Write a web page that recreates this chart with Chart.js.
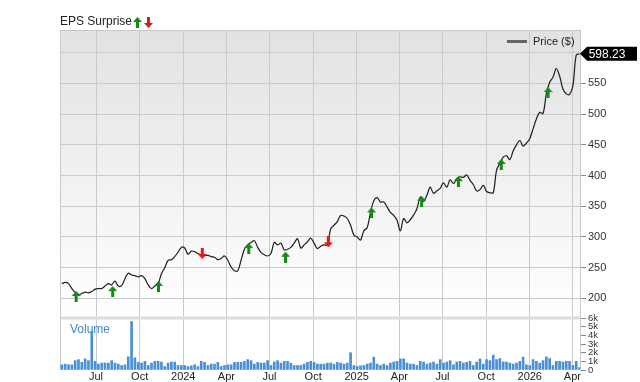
<!DOCTYPE html>
<html>
<head>
<meta charset="utf-8">
<script src="https://cdn.jsdelivr.net/npm/chart.js@4.4.1/dist/chart.umd.min.js"></script>
<style>
    html, body { margin: 0; padding: 0; background: #fff; }
    #wrap { width: 640px; height: 382px; }
</style>
</head>
<body>
<div id="wrap"><canvas id="epsChart"></canvas></div>
<script>
// Data

const axisStart = Date.UTC(2023, 3, 16);
const axisEnd = Date.UTC(2026, 3, 17);
const firstWeek = Date.UTC(2023, 3, 20);

// weekly close, $
const prices = [
    224, 226, 224, 216, 210, 206, 208, 210, 209, 211,
    215, 216, 216, 220, 224, 222, 228, 220, 221, 232,
    241, 238, 237, 235, 237, 232, 222, 216, 220, 224,
    240, 250, 262, 263, 268, 275, 283, 282, 272, 277,
    276, 273, 271, 270, 270, 268, 267, 263, 265, 269,
    262, 251, 245, 245, 262, 280, 287, 291, 294, 283,
    275, 271, 269, 273, 291, 287, 290, 279, 280, 283,
    290, 297, 282, 287, 292, 298, 290, 281, 285, 287,
    287, 313, 319, 325, 335, 334, 330, 319, 303, 300,
    295, 310, 315, 340, 359, 364, 357, 357, 349, 340,
    335, 327, 310, 330, 323, 328, 336, 346, 365, 358,
    368, 381, 371, 375, 379, 388, 381, 393, 387, 395,
    398, 397, 401, 392, 385, 375, 377, 384, 374, 372,
    372, 409, 420, 430, 432, 426, 440, 450, 457, 448,
    453, 460, 476, 492, 503, 501, 533, 552, 560, 574,
    562, 541, 533, 532, 546, 596, 598.23
];

// weekly volume, thousands
const volumes = [
    0.6, 0.68, 0.6, 0.6, 1.08, 1.2, 0.88, 1.28, 1.08, 4.48,
    1.0, 0.68, 0.8, 0.8, 0.8, 1.08, 0.8, 0.68, 0.52, 0.6,
    1.52, 5.6, 1.4, 0.88, 0.8, 1.0, 0.52, 0.8, 1.0, 1.0,
    0.92, 0.4, 0.8, 0.92, 0.92, 0.52, 0.52, 0.52, 0.4, 0.48,
    0.6, 0.4, 1.0, 0.88, 0.52, 0.68, 0.68, 0.88, 0.4, 0.52,
    0.6, 0.6, 0.88, 0.88, 0.88, 1.0, 1.2, 1.08, 0.68, 0.88,
    0.8, 0.8, 1.08, 0.52, 0.92, 1.08, 0.8, 1.0, 1.0, 0.8,
    0.52, 0.52, 0.52, 0.68, 0.88, 1.0, 0.88, 0.68, 0.68, 0.68,
    0.8, 0.8, 0.68, 0.88,
    0.8, 0.68, 0.8, 2.0, 0.52, 0.4, 0.48, 0.52, 0.68, 0.8,
    1.48, 0.68, 0.52, 0.68, 0.52, 0.8, 0.92, 1.0, 1.28, 1.28,
    0.8, 0.68, 0.68, 0.52, 1.0, 0.92, 0.68, 0.8, 0.92, 0.68,
    1.2, 0.8, 0.92, 1.08, 0.6, 0.92, 1.0, 0.8, 0.88, 1.0,
    0.52, 0.92, 1.28, 0.68, 1.2, 1.08, 1.72, 1.2, 1.32, 0.92,
    0.92, 0.8, 0.68, 0.8, 1.0, 1.48, 0.6, 0.52, 1.2, 1.0,
    0.8, 1.08, 1.52, 1.32, 0.52, 1.0, 1.0, 0.92, 1.0, 1.0,
    0.52, 1.0, 0.28
];

// EPS surprises: week index, marker level, beat (1) / miss (0)
const epsWeeks = [4.3, 15.3, 29.1, 42.3, 56.3, 67.4, 80.3, 93.3, 108.4, 119.5, 132.4, 146.5];
const epsLevels = [203, 211, 219.5, 273, 281, 267, 292, 339, 358, 390, 418, 535];
const epsBeat = [1, 1, 1, 0, 1, 1, 0, 1, 1, 1, 1, 1];

const tickMonths = [
    [2023, 6], [2023, 9], [2024, 0], [2024, 3], [2024, 6], [2024, 9],
    [2025, 0], [2025, 3], [2025, 6], [2025, 9], [2026, 0], [2026, 3]
];
const tickLabels = ['Jul', 'Oct', '2024', 'Apr', 'Jul', 'Oct', '2025', 'Apr', 'Jul', 'Oct', '2026', 'Apr'];
const priceTicks = [200, 250, 300, 350, 400, 450, 500, 550, 600];
const volumeTicks = [0, 1, 2, 3, 4, 5, 6];

/////

const DAY = 86400000;
const FONT = "'Liberation Sans', Arial, sans-serif";
const dayOf = ms => (ms - axisStart) / DAY;
const weekX = i => dayOf(firstWeek) + 7 * i;
const tickDays = tickMonths.map(m => dayOf(Date.UTC(m[0], m[1], 1)));

function makeArrow(color, up) {
    const c = document.createElement('canvas');
    c.width = 9;
    c.height = 11;
    const ctx = c.getContext('2d');
    ctx.fillStyle = color;
    ctx.beginPath();
    const pts = [[4.5, 0], [9, 5], [6, 5], [6, 11], [3, 11], [3, 5], [0, 5]];
    pts.forEach((p, i) => {
        const y = up ? p[1] : 11 - p[1];
        if (i === 0) ctx.moveTo(p[0], y); else ctx.lineTo(p[0], y);
    });
    ctx.closePath();
    ctx.fill();
    return c;
}
const upArrow = makeArrow('#138a13', true);
const downArrow = makeArrow('#e8141c', false);

// Background, borders, titles and price tag
const decorPlugin = {
    id: 'decor',
    beforeDraw(chart) {
        const ctx = chart.ctx;
        const area = chart.chartArea;
        const y = chart.scales.y;
        const g = ctx.createLinearGradient(0, y.top, 0, y.bottom);
        g.addColorStop(0, '#e2e2e2');
        g.addColorStop(1, '#ffffff');
        ctx.save();
        ctx.fillStyle = g;
        ctx.fillRect(area.left, y.top, area.right - area.left, y.bottom - y.top);
        ctx.restore();
    },
    beforeDatasetsDraw(chart) {
        const ctx = chart.ctx;
        const area = chart.chartArea;
        const y = chart.scales.y;
        ctx.save();
        ctx.strokeStyle = '#dcdcdc';
        ctx.lineWidth = 3;
        ctx.beginPath();
        ctx.moveTo(area.left, y.bottom);
        ctx.lineTo(area.right, y.bottom);
        ctx.stroke();
        ctx.strokeStyle = '#c8c8c8';
        ctx.lineWidth = 1;
        ctx.beginPath();
        ctx.moveTo(area.left + 0.5, area.top);
        ctx.lineTo(area.left + 0.5, area.bottom);
        ctx.moveTo(area.left, area.top + 0.5);
        ctx.lineTo(area.right, area.top + 0.5);
        ctx.stroke();

        ctx.fillStyle = '#3d88cc';
        ctx.font = '12px ' + FONT;
        ctx.textBaseline = 'middle';
        ctx.fillText('Volume', 70, 330);
        ctx.restore();
    },
    afterDraw(chart) {
        const ctx = chart.ctx;
        const area = chart.chartArea;
        const last = prices[prices.length - 1];
        const py = chart.scales.y.getPixelForValue(last);
        ctx.save();

        ctx.fillStyle = '#222';
        ctx.font = '12px ' + FONT;
        ctx.textBaseline = 'middle';
        ctx.fillText('EPS Surprise', 60, 22);
        ctx.drawImage(upArrow, 133, 17);
        ctx.drawImage(downArrow, 144, 17);

        ctx.strokeStyle = '#666';
        ctx.lineWidth = 3;
        ctx.beginPath();
        ctx.moveTo(507, 41.5);
        ctx.lineTo(527, 41.5);
        ctx.stroke();
        ctx.fillStyle = '#222';
        ctx.font = '11px ' + FONT;
        ctx.fillText('Price ($)', 533, 42);

        ctx.fillStyle = '#000';
        ctx.beginPath();
        ctx.moveTo(area.right, py);
        ctx.lineTo(area.right + 7, py - 7);
        ctx.lineTo(637, py - 7);
        ctx.lineTo(637, py + 7);
        ctx.lineTo(area.right + 7, py + 7);
        ctx.closePath();
        ctx.fill();
        ctx.fillStyle = '#fff';
        ctx.font = '12px ' + FONT;
        ctx.textAlign = 'center';
        ctx.fillText(last.toFixed(2), 607, py + 1);
        ctx.restore();
    }
};

const chartConfig = {
    type: 'bar',
    data: {
        datasets: [
            {
                type: 'scatter',
                label: 'EPS Surprise',
                data: epsWeeks.map((w, i) => ({ x: weekX(w), y: epsLevels[i] })),
                pointStyle: epsBeat.map(b => b ? upArrow : downArrow),
                yAxisID: 'y',
                order: 0,
            },
            {
                type: 'line',
                label: 'Price ($)',
                data: prices.map((p, i) => ({ x: weekX(i), y: p })),
                borderColor: '#1e1e1e',
                borderWidth: 1.2,
                pointRadius: 0,
                tension: 0.35,
                yAxisID: 'y',
                order: 1,
            },
            {
                type: 'bar',
                label: 'Volume',
                data: volumes.map((v, i) => ({ x: weekX(i), y: v })),
                backgroundColor: '#4a90d6',
                barThickness: 2,
                yAxisID: 'yVol',
                order: 2,
            },
        ]
    },
    options: {
        responsive: true,
        maintainAspectRatio: false,
        animation: false,
        layout: { padding: { left: 60, top: 30, right: 0, bottom: 0 } },
        plugins: {
            legend: { display: false },
            tooltip: { enabled: false },
        },
        scales: {
            x: {
                type: 'linear',
                min: 0,
                max: dayOf(axisEnd),
                offset: false,
                afterBuildTicks(axis) {
                    axis.ticks = tickDays.map(v => ({ value: v }));
                },
                afterFit(axis) { axis.height = 12; },
                ticks: {
                    autoSkip: false,
                    maxRotation: 0,
                    padding: 0,
                    color: '#222',
                    font: { family: FONT, size: 11 },
                    callback: (v, i) => tickLabels[i],
                },
                grid: { color: '#cacaca', drawTicks: false, offset: false },
                border: { display: false },
            },
            y: {
                position: 'right',
                stack: 'right',
                stackWeight: 288,
                min: 168,
                max: 637,
                afterBuildTicks(axis) {
                    axis.ticks = priceTicks.map(v => ({ value: v }));
                },
                afterFit(axis) { axis.width = 60; },
                ticks: {
                    padding: 2,
                    color: '#333',
                    font: { family: FONT, size: 11 },
                },
                grid: { color: '#cacaca', tickLength: 6, tickColor: '#888' },
                border: { display: true, color: '#c8c8c8' },
            },
            yVol: {
                position: 'right',
                stack: 'right',
                stackWeight: 52,
                min: 0,
                max: 6,
                afterBuildTicks(axis) {
                    axis.ticks = volumeTicks.map(v => ({ value: v }));
                },
                afterFit(axis) { axis.width = 60; },
                ticks: {
                    autoSkip: false,
                    padding: 2,
                    color: '#333',
                    font: { family: FONT, size: 9.5, lineHeight: 1 },
                    callback: v => v === 0 ? '0' : v + 'k',
                },
                grid: { drawOnChartArea: false, tickLength: 6, tickColor: '#888' },
                border: { display: true, color: '#c8c8c8' },
            },
        },
    },
    plugins: [decorPlugin],
};

new Chart(document.getElementById('epsChart'), chartConfig);
</script>
</body>
</html>
